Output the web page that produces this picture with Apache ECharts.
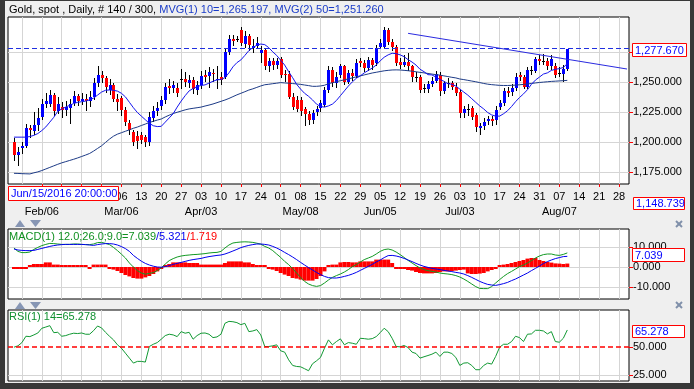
<!DOCTYPE html>
<html><head><meta charset="utf-8">
<script src="https://cdn.jsdelivr.net/npm/echarts@6/dist/echarts.min.js"></script>
<style>html,body{margin:0;padding:0;background:#efefef;}#c{width:694px;height:389px;}</style>
</head><body><div id="c"></div>
<script>
// ---------- data ----------
const opens = [1200,1189,1194.7,1197,1212,1209.5,1214.5,1221,1232,1232, 1239,1226,1229,1227,1228,1232.8,1238,1234,1236,1234, 1237,1249,1255.5,1253,1243,1247.5,1235.5,1236.4,1226.7,1215.6, 1208.6,1205,1206,1204.5,1200.3,1220,1226,1230,1235,1246.5, 1245,1245.3,1252,1252.2,1249.4,1251.7,1243.3,1247.5,1255.8,1255.3, 1257.8,1251.5,1254,1254,1274.7,1285.6,1285.3,1293,1281.7,1288.6, 1278.3,1280,1273.9,1276.7,1262.8,1267,1264.2,1269.2,1256.6,1256.4, 1237.8,1235,1235,1227.2,1223.3,1218.3,1225.3,1228,1230.8,1243.3, 1260,1248.9,1255.8,1262.8,1250.3,1257.8,1255,1267.5,1266.1,1261.4, 1268.3,1265.6,1279.4,1279.4,1292.8,1283.6,1279.4,1266.9,1264.2,1266.9, 1262.8,1254,1253.9,1244.7,1243.9,1248.3,1251.1,1255.8,1242.8,1248.9, 1248.9,1246.1,1241.9,1223.9,1227,1228,1222.5,1211.4,1213.3,1217.5, 1219.2,1218.3,1229.4,1232.8,1242.8,1241.9,1244.7,1255.8,1253.9,1246.1, 1259.4,1259.4,1268.9,1267,1267,1262.8,1262.8,1256.7,1256.7,1260.6];
const closes = [1189,1191.5,1197,1212,1210,1214.5,1220,1232,1234,1239, 1226,1232,1227,1229,1232,1238.3,1234,1236,1234,1237, 1249,1256,1253.5,1246,1247,1235.6,1233.6,1226.7,1216.4,1210, 1200.3,1200.5,1202,1200,1221,1226,1228,1235,1246,1245, 1247,1241,1252.3,1250.3,1251.7,1243.9,1247.5,1255,1253.9,1258, 1256.4,1252,1251.7,1274.7,1285.6,1284.4,1285.6,1282,1288.6,1280.8, 1280,1282.2,1276.7,1262.8,1267,1264.2,1267,1255.8,1256,1237.8, 1228.9,1227.2,1226,1223.3,1218.3,1224.4,1227.2,1232.2,1243.3,1260, 1248.9,1254.4,1262.8,1250.3,1257.2,1255,1266.1,1266.1,1261.4,1268.3, 1264.2,1278.1,1282.2,1292.8,1283.6,1279.4,1265.6,1264.2,1266.9,1262.8, 1253.9,1254.3,1243.3,1244.7,1248.3,1251.1,1256.7,1242.8,1248.9,1249.2, 1246.1,1241.1,1223.9,1227.2,1227.3,1221.1,1212.8,1213.3,1217,1219.2, 1217.5,1226.7,1232.2,1242.8,1241.1,1244.7,1254.4,1253.9,1246.1,1260, 1259.7,1268.9,1267,1267.3,1262.8,1268.9,1255.8,1257,1260.6,1277.67];
const highs = [1203,1196,1200,1215,1214,1225,1228,1236,1241,1243, 1241,1237,1233,1234,1236,1242,1240,1241,1240,1242, 1253,1263,1259,1255,1252,1249,1240,1238,1229,1218, 1210,1209,1208,1206,1225,1230,1233,1238,1249,1252, 1251,1249,1261,1258,1256,1254,1251,1259,1260,1262, 1261,1263,1258,1277,1289,1289,1288,1296,1292,1290, 1286,1287,1280,1278,1270,1270,1270,1271,1260,1259, 1241,1238,1237,1229,1226,1227,1230,1235,1246,1263, 1262,1258,1265,1264,1260,1261,1269,1270,1268,1271, 1270,1281,1286,1296,1295,1286,1281,1270,1272,1274, 1264,1258,1256,1248,1251,1254,1259,1258,1251,1253, 1251,1249,1243,1230,1232,1230,1224,1216,1220,1222, 1222,1230,1235,1245,1246,1248,1257,1258,1256,1262, 1263,1271,1272,1273,1270,1272,1266,1262,1264,1277.67];
const lows = [1184,1180,1190,1195,1203,1206,1209,1218,1228,1229, 1222,1223,1220,1222,1215,1230,1230,1231,1226,1229, 1235,1246,1249,1241,1239,1233,1226,1222,1213,1206, 1197,1194,1198,1196,1197,1217,1222,1227,1232,1240, 1241,1237,1244,1246,1245,1240,1239,1244,1250,1245, 1250,1244,1247,1252,1272,1280,1283,1280,1278,1276, 1274,1277,1266,1260,1258,1260,1261,1253,1250,1236, 1227,1225,1222,1213,1214,1215,1222,1225,1229,1241, 1246,1245,1253,1247,1248,1251,1253,1262,1258,1259, 1260,1263,1277,1278,1281,1276,1263,1261,1262,1259, 1250,1250,1241,1241,1241,1246,1249,1238,1240,1245, 1243,1238,1220,1220,1222,1218,1208,1206,1210,1214, 1213,1214,1227,1230,1237,1238,1242,1251,1244,1244, 1256,1257,1264,1264,1260,1260,1253,1254,1250,1259];
const ma10 = [1204,1204,1204,1204,1204.5,1205.5,1207,1209.5,1212.5,1216.5, 1220.5,1225.5,1227.5,1229,1230.5,1232,1233,1233.5,1234,1235, 1236.5,1239,1241.5,1243,1243.3,1243,1242.3,1240.5,1237.5,1233, 1228.5,1224.5,1221.5,1218.5,1215.5,1213.5,1212.8,1213,1216.5,1220, 1223.5,1229,1234,1238.5,1242.5,1244.5,1246,1247,1247.5,1249, 1250.5,1251.7,1252,1253.5,1257.5,1262.5,1266,1268.3,1272,1276, 1278.5,1280.5,1281.5,1281,1278.5,1275,1272,1268,1264,1258.5, 1253.5,1248,1244,1240.5,1238,1235,1231.5,1229.5,1229,1230, 1231.5,1234.5,1238.5,1242.5,1246.5,1250,1253,1255,1257.5,1259.5, 1261.5,1264,1267.5,1270.5,1272.5,1273.8,1273.5,1272.5,1271,1268.5, 1266.5,1264,1260.5,1258.5,1256,1255.8,1254,1252,1250.5,1248.5, 1248,1246.5,1244,1241.5,1239,1236,1233,1230,1227.5,1224.5, 1222.5,1221.5,1221.5,1223.5,1226,1229.5,1233.5,1237,1240,1243.5, 1248,1251.5,1254,1256.5,1257.5,1259.5,1260.5,1261,1262,1265.2];
const ma50 = [1173.9,1173.8,1173.6,1173.5,1173.4,1174.3,1175.1,1176.2,1177.5,1178.8, 1180.1,1181.4,1182.6,1183.6,1184.6,1185.6,1186.7,1187.9,1189.1,1190.4, 1192.4,1194.6,1196.8,1199.6,1202.4,1204.8,1206.5,1207.7,1208.9,1210.1, 1211.4,1212.4,1213.7,1214.9,1216.2,1217.2,1218.2,1219.1,1220.8,1222.3, 1223.7,1224.7,1225.7,1226.7,1227.5,1228,1228.5,1229,1229.9,1230.7, 1231.6,1232.7,1233.8,1234.9,1236.2,1237.7,1239.2,1240.5,1241.8,1243.2, 1244.2,1245.4,1246.6,1247.6,1248,1248.5,1248.9,1249.4,1249.1,1248.9, 1248.6,1248.3,1247.9,1247.4,1246.9,1246.3,1246.3,1246.6,1247.2,1248.5, 1249.3,1250.1,1251,1251.7,1252.5,1253.3,1254.2,1255,1255.8,1256.6, 1257.4,1258,1258.6,1259.2,1259.6,1259.9,1260,1259.9,1259.6,1259.3, 1258.9,1258.4,1257.9,1257.5,1257,1256.5,1256,1255.6,1255,1254.4, 1253.8,1253.3,1252.4,1251.9,1251.3,1250.7,1250.1,1249.4,1248.7,1248.1, 1247.7,1247.4,1247.1,1247,1247,1247.1,1247.3,1247.6,1247.9,1248.3, 1248.7,1249.1,1249.5,1249.8,1250.1,1250.4,1250.6,1250.8,1251,1251.26];
const macd = [9.5,7.8,7.2,7.2,7.5,8.8,9.8,10.7,11.3,11.8, 11.7,11.5,11.3,11.3,11.3,11.5,11.5,11.3,11.2,11.2, 11.5,12.2,12.3,11.8,11.2,9.8,8.2,6.4,4.5,2.0, 0,-1.8,-3.0,-3.6,-3.2,-2.8,-1.8,-0.5,1.5,3.2, 4.2,5.0,5.5,5.8,6.0,6.2,6.3,6.5,6.7,7.0, 7.2,7.3,7.8,9.5,11.0,12.0,12.3,12.5,12.6,12.5, 12.3,11.9,11.4,10.3,9.5,8.2,6.5,4.8,2.8,1.2, -0.8,-3.0,-5.2,-7.2,-8.5,-9.3,-9.7,-9.3,-8.0,-6.5, -5.2,-4.3,-3.5,-2.5,-1.3,0.2,1.2,2.5,3.7,4.5, 5.3,6.5,7.8,8.7,9.0,8.5,7.5,6.2,4.8,3.3, 2.0,0.7,-0.5,-1.3,-1.8,-2.2,-2.5,-3.0,-3.3,-3.5, -3.8,-4.3,-5.0,-6.0,-7.2,-8.5,-9.8,-10.7,-10.8,-10.8, -9.8,-8.0,-6.3,-4.7,-3.3,-2.2,-1.0,0.2,1.0,2.0, 3.2,4.5,5.5,6.2,6.5,6.5,6.0,5.8,6.3,7.039];
const signal = [9.0,8.5,8.3,8.2,8.2,8.3,8.8,9.3,9.8,10.3, 10.7,11.0,11.2,11.3,11.3,11.3,11.3,11.3,11.2,11.0, 10.8,11.2,11.5,11.7,11.7,11.5,11.0,10.2,9.2,7.8, 5.8,4.3,2.9,1.8,1.0,0.4,0.0,-0.1,0.2,0.7, 1.3,1.8,2.3,2.8,3.3,3.7,4.0,4.3,4.8,5.2, 5.5,5.8,6.0,6.5,7.2,8.0,8.8,9.7,10.3,10.8, 11.2,11.5,11.5,11.3,11.0,10.3,9.5,8.5,7.3,6.2, 5.0,3.7,2.3,1.0,-0.3,-1.5,-2.7,-3.8,-4.7,-5.3, -5.5,-5.5,-5.2,-4.7,-4.2,-3.5,-2.7,-1.7,-0.7,0.3, 1.3,2.5,3.5,4.7,5.7,5.8,5.5,5.0,4.3,3.5, 2.7,1.8,1.0,0.3,-0.2,-0.7,-1.0,-1.3,-1.7,-2.0, -2.3,-2.7,-3.0,-3.5,-4.3,-5.2,-6.2,-7.2,-8.0,-8.7, -9.0,-9.2,-8.8,-8.3,-7.7,-6.8,-6.0,-5.0,-4.0,-3.0, -1.8,-0.7,0.5,1.7,2.7,3.5,4.2,4.7,5.2,5.321];
const macdHist = [-0.3,-0.3,-0.3,-0.3,0.8,1.5,1.5,1.5,2.3,2.3, 1.2,1.2,0.8,0.8,0.8,0.8,0.8,0.3,0.3,-0.5, 1.2,1.2,1.2,1.2,-0.2,-1.3,-2.0,-3.0,-4.0,-4.7, -5.5,-5.8,-5.8,-5.2,-4.5,-3.5,-2.2,-1.0,0.3,1.5, 2.3,2.3,2.3,2.3,2.0,2.0,2.0,1.2,1.2,1.2, 1.2,1.2,1.2,2.0,2.8,2.8,2.8,2.8,2.3,2.3, 1.5,0.8,0.8,0.3,-0.5,-1.3,-2.0,-3.0,-3.8,-4.5, -5.5,-5.8,-6.3,-6.8,-6.8,-6.8,-6.0,-4.5,-2.2,0.5, 1.2,1.2,2.3,2.5,2.5,2.3,2.3,2.8,2.8,2.8, 2.8,3.7,3.7,3.7,3.7,2.0,-0.2,-0.5,-0.8,-1.5, -1.8,-2.5,-3.0,-3.2,-3.2,-3.2,-3.0,-2.5,-2.2,-2.2, -2.0,-1.8,-1.5,-1.3,-3.2,-3.5,-3.5,-3.3,-3.0,-2.2, -1.5,-0.5,0.3,1.2,1.5,2.0,2.5,3.0,3.5,4.2, 4.5,4.5,3.5,3.0,2.5,2.2,1.8,1.7,1.5,1.719];
const rsi = [50,51.2,54.1,59.7,59.4,60.9,62.6,66.8,67.9,69.1, 62.9,63.2,59.7,60.3,61.5,62.4,62.1,62.6,61.5,61.5, 64.7,68.8,67.1,63.2,59.7,56.5,52.1,49.1,44.7,40.3, 35.9,37.4,37.4,36.8,50.6,52.6,54.1,57.1,60.3,61.5, 60.9,59.4,63.8,62.4,63.2,57.1,60.3,62.4,62.6,61.5, 58.5,59.1,61.5,71.2,72.9,72.6,71.8,70,71.2,63.8, 64.4,65.6,60.9,50.6,50.6,51.2,52.1,46.8,45.6,38.8, 33.8,32.9,32.6,30.9,29.1,35.3,37.9,40.9,49.1,56.5, 52.1,55,57.4,52.1,54.1,53.5,52.6,57.9,57.6,57.1, 57.6,59.4,62.9,66.8,63.8,57.9,50.6,50.3,51.5,49.7, 45.6,44.4,40.3,41.5,42.6,43.8,45.6,41.8,45.6,45.6, 44.4,40.9,33.8,35.9,36.2,33.8,30,30,33.8,35.9, 35,41.8,50,52.6,52.6,55,59.7,58.5,55,61.5, 61.8,65,65,64.4,61.8,63.8,55,54.4,57.9,65.278];
const trendLine = [[100, 1290.4], [155, 1260.7]];   // [category index, price]
const lastPrice = 1277.67;
const dayTickLabels = ['30','06','13','20','27','06','13','20','27','03','10','17','24','01','08','15','22','29','05','12','19','26','03','10','17','24','31','07','14','21','28'];
const monthTickLabels = {'2017-02-06':'Feb/06','2017-03-06':'Mar/06','2017-04-03':'Apr/03','2017-05-08':'May/08','2017-06-05':'Jun/05','2017-07-03':'Jul/03','2017-08-07':'Aug/07'};
const priceTicks = [1175, 1200, 1225, 1250, 1275];
const macdTicks = [-10, 0, 10];
const rsiTicks = [25, 50];

// ---------- axis scaffolding ----------
const FONT = '"Liberation Sans", Arial, sans-serif';
const N_CAT = 156;                 // one blank day before the first candle, 15 after the last
const categories = [];
{ let t = Date.UTC(2017, 0, 25);
  while (categories.length < N_CAT) { const d = new Date(t); const w = d.getUTCDay(); if (w > 0 && w < 6) categories.push(d.toISOString().slice(0, 10)); t += 86400000; } }
const mondayCats = [];
categories.forEach((c, i) => { if (new Date(c + 'T00:00:00Z').getUTCDay() === 1) mondayCats.push(i); });
const dayLabelOf = {};
mondayCats.forEach((ci, k) => { dayLabelOf[ci] = dayTickLabels[k]; });
function levels(a, b) { const r = []; for (let v = a; v <= b; v++) r.push(String(v)); return r; }
function fmt(v) { const n = Number(v); const s = Math.abs(n).toFixed(3).split('.'); s[0] = s[0].replace(/\B(?=(\d{3})+(?!\d))/g, ','); return (n < 0 ? '-' : '') + s[0] + '.' + s[1]; }

const grids = [
  {left: 8, top: 17, width: 621, height: 167},
  {left: 8, top: 229, width: 621, height: 70},
  {left: 8, top: 310, width: 621, height: 71}
].map(g => Object.assign(g, {show: true, backgroundColor: '#fff', borderColor: '#000', borderWidth: 1}));

function xAx(gi, showLabels) {
  return {
    type: 'category', gridIndex: gi, data: categories, boundaryGap: true,
    axisLine: {show: false}, splitLine: {show: false},
    axisTick: {show: showLabels, alignWithLabel: true, length: 3, interval: (i) => dayLabelOf[i] !== undefined, lineStyle: {color: '#ff0000'}},
    axisLabel: {show: showLabels, interval: (i) => dayLabelOf[i] !== undefined, margin: 5, fontSize: 11, fontFamily: FONT, color: '#000', lineHeight: 15,
      formatter: (v, i) => { const m = monthTickLabels[v]; return dayLabelOf[i] + (m ? '\n' + m : ''); }}
  };
}
function yVal(gi, min, max) { return {type: 'value', gridIndex: gi, min: min, max: max, position: 'left', show: false}; }
function yLab(gi, min, max, ticks) {
  const set = {}; ticks.forEach(t => set[String(t)] = true);
  return {
    type: 'category', gridIndex: gi, data: levels(min, max), boundaryGap: false, position: 'right',
    axisLine: {show: false}, splitLine: {show: false},
    axisTick: {show: true, length: 4, interval: (i, v) => !!set[v], lineStyle: {color: '#ff0000'}},
    axisLabel: {show: true, interval: (i, v) => !!set[v], margin: 4, fontSize: 11, fontFamily: FONT, color: '#000', formatter: (v) => fmt(v)}
  };
}
function gridLines(gi, yi, hTicks) {
  const d = mondayCats.map(ci => ({xAxis: categories[ci]})).concat(hTicks.map(v => ({yAxis: v})));
  return {type: 'line', xAxisIndex: gi, yAxisIndex: yi, data: [], silent: true,
    markLine: {silent: true, z: 1, symbol: ['none', 'none'], label: {show: false}, animation: false,
      lineStyle: {color: '#d5d5d5', width: 1, type: 'solid'}, data: d}};
}
const pairs = (arr) => arr.map((v, i) => [i + 1, v]);
const candleData = opens.map((o, i) => [i + 1, o, closes[i], lows[i], highs[i]]);

const option = {
  animation: false,
  backgroundColor: '#efefef',
  grid: grids,
  xAxis: [xAx(0, true), xAx(1, false), xAx(2, false)],
  yAxis: [yVal(0, 1165, 1304), yLab(0, 1165, 1304, priceTicks), yVal(1, -16, 19), yLab(1, -16, 19, macdTicks), yVal(2, 20, 83), yLab(2, 20, 83, rsiTicks)],
  series: [
    gridLines(0, 0, priceTicks),
    gridLines(1, 2, macdTicks),
    gridLines(2, 4, [25]),
    {
      type: 'custom', xAxisIndex: 0, yAxisIndex: 0, z: 3, data: candleData,
      encode: {x: 0, y: [1, 2, 3, 4]},
      renderItem: function (params, api) {
        const ci = api.value(0), o = api.value(1), c = api.value(2), l = api.value(3), h = api.value(4);
        const pO = api.coord([ci, o]), pC = api.coord([ci, c]), pL = api.coord([ci, l]), pH = api.coord([ci, h]);
        const cx = Math.round(pO[0]);
        const top = Math.round(Math.min(pO[1], pC[1])), bot = Math.round(Math.max(pO[1], pC[1]));
        const doji = Math.abs(c - o) < 0.5;
        const col = doji ? '#000' : (c > o ? '#0000ff' : '#ff0000');
        return {type: 'group', children: [
          {type: 'line', shape: {x1: cx + 0.5, y1: Math.round(pH[1]), x2: cx + 0.5, y2: Math.round(pL[1])}, style: {stroke: '#000', lineWidth: 1}},
          {type: 'rect', shape: {x: cx - 1, y: top, width: 3, height: Math.max(1, bot - top)}, style: {fill: col}}
        ]};
      }
    },
    {type: 'line', xAxisIndex: 0, yAxisIndex: 0, z: 4, data: pairs(ma50), showSymbol: false, symbol: 'none', lineStyle: {color: '#1c3a86', width: 1}},
    {type: 'line', xAxisIndex: 0, yAxisIndex: 0, z: 4, data: pairs(ma10), showSymbol: false, symbol: 'none', lineStyle: {color: '#1414ee', width: 1}},
    {type: 'line', xAxisIndex: 0, yAxisIndex: 0, z: 4, data: trendLine, showSymbol: false, symbol: 'none', lineStyle: {color: '#2a2ae0', width: 1},
      markLine: {silent: true, symbol: ['none', 'none'], label: {show: false}, lineStyle: {color: '#1f2fe0', width: 1, type: [5, 3]}, data: [{yAxis: lastPrice}]}},
    {type: 'bar', xAxisIndex: 1, yAxisIndex: 2, z: 2, data: pairs(macdHist), barWidth: 4, barCategoryGap: '0%', barMinHeight: 2, itemStyle: {color: '#ff0000'}},
    {type: 'line', xAxisIndex: 1, yAxisIndex: 2, z: 4, data: pairs(macd), showSymbol: false, symbol: 'none', lineStyle: {color: '#119922', width: 1}},
    {type: 'line', xAxisIndex: 1, yAxisIndex: 2, z: 4, data: pairs(signal), showSymbol: false, symbol: 'none', lineStyle: {color: '#0000ee', width: 1}},
    {type: 'line', xAxisIndex: 2, yAxisIndex: 4, z: 4, data: pairs(rsi), showSymbol: false, symbol: 'none', lineStyle: {color: '#119933', width: 1},
      markLine: {silent: true, symbol: ['none', 'none'], label: {show: false}, lineStyle: {color: '#ff0000', width: 1.6, type: [5, 3]}, data: [{yAxis: 50}]}}
  ],
  graphic: []
};

function box(x, y, w, h, text) {
  return [
    {type: 'rect', z: 100, shape: {x: x + 0.5, y: y + 0.5, width: w, height: h}, style: {fill: '#fff', stroke: '#ff0000', lineWidth: 1}},
    {type: 'text', z: 101, x: x + 3, y: y + h / 2 + 1, style: {text: text, font: '11px ' + FONT, fill: '#0000ff', verticalAlign: 'middle'}}
  ];
}
function tri(x, y, up) {
  return {type: 'polygon', z: 100, shape: {points: up ? [[x, y + 7], [x + 10, y + 7], [x + 5, y]] : [[x, y], [x + 11, y], [x + 5.5, y + 7]]}, style: {fill: '#8796b4'}};
}
function cross(x, y) {
  return {type: 'group', z: 100, children: [
    {type: 'line', shape: {x1: x, y1: y, x2: x + 6, y2: y + 6}, style: {stroke: '#8090aa', lineWidth: 2}},
    {type: 'line', shape: {x1: x + 6, y1: y, x2: x, y2: y + 6}, style: {stroke: '#8090aa', lineWidth: 2}}
  ]};
}
option.graphic = [
  {type: 'rect', z: 90, shape: {x: 0, y: 0, width: 5, height: 389}, style: {fill: '#383838'}},
  {type: 'rect', z: 90, shape: {x: 0, y: 0, width: 694, height: 1}, style: {fill: '#383838'}},
  {type: 'rect', z: 90, shape: {x: 0, y: 383, width: 694, height: 6}, style: {fill: '#383838'}},
  {type: 'rect', z: 90, shape: {x: 690, y: 0, width: 4, height: 389}, style: {fill: '#383838'}},
  {type: 'text', z: 100, x: 9, y: 10, style: {text: '{a|Gold, spot , Daily, # 140 / 300, }{b|MVG(1) 10=1,265.197, MVG(2) 50=1,251.260}', font: '11px ' + FONT, verticalAlign: 'middle',
    rich: {a: {fill: '#000', fontSize: 11, fontFamily: FONT}, b: {fill: '#1a3cc8', fontSize: 11, fontFamily: FONT}}}},
  {type: 'text', z: 100, x: 9, y: 237, style: {text: '{a|MACD(1) 12.0;26.0;9.0=7.039}{b|/5.321}{c|/1.719}', font: '11px ' + FONT, verticalAlign: 'middle',
    rich: {a: {fill: '#109020', fontSize: 11, fontFamily: FONT}, b: {fill: '#0000ee', fontSize: 11, fontFamily: FONT}, c: {fill: '#ff0000', fontSize: 11, fontFamily: FONT}}}},
  {type: 'text', z: 100, x: 9, y: 317, style: {text: 'RSI(1) 14=65.278', font: '11px ' + FONT, fill: '#109030', verticalAlign: 'middle'}},
  tri(15, 220, true), tri(30, 220, false), tri(15, 302, true), tri(30, 302, false),
  cross(676, 221), cross(676, 302)
].concat(box(8, 186, 110, 14, 'Jun/15/2016 20:00:00'))
 .concat(box(632, 43, 54, 13, '1,277.670'))
 .concat(box(633, 197, 51, 12, '1,148.739'))
 .concat(box(632, 248, 52, 13, '7.039'))
 .concat(box(632, 325, 52, 12, '65.278'));

const chart = echarts.init(document.getElementById('c'));
chart.setOption(option);
</script></body></html>
